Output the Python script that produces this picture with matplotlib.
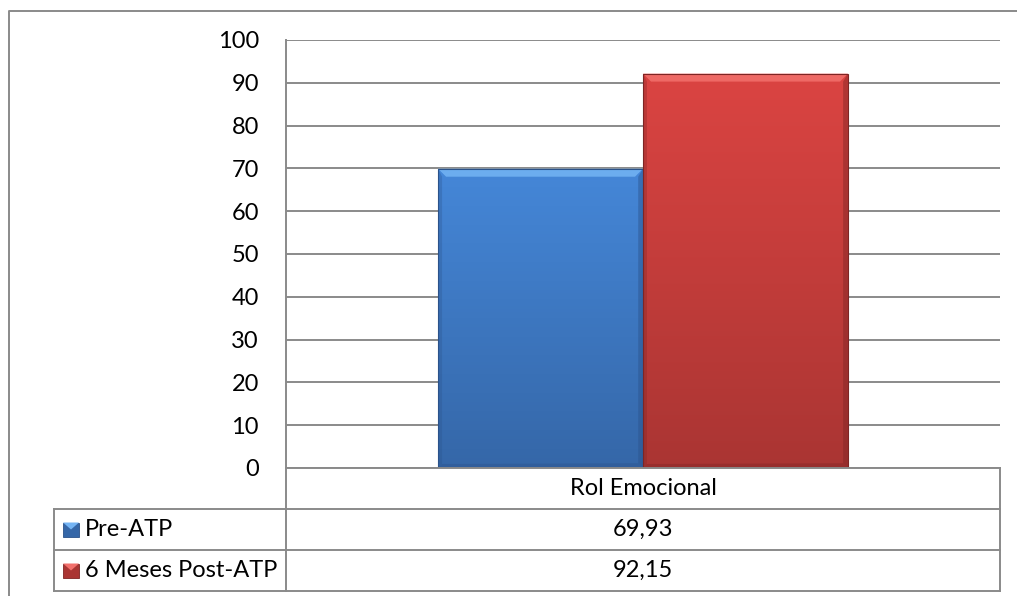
import numpy as np
import matplotlib
matplotlib.use("Agg")
import matplotlib.pyplot as plt
from matplotlib.patches import Rectangle, Polygon
from matplotlib.lines import Line2D
from matplotlib.colors import LinearSegmentedColormap

plt.rcParams['font.family'] = ['Lato', 'DejaVu Sans']

# ---- data ----
categories = ["Rol Emocional"]
series_names = ["Pre-ATP", "6 Meses Post-ATP"]
values = [69.93, 92.15]
value_labels = ["69,93", "92,15"]
y_ticks = [0, 10, 20, 30, 40, 50, 60, 70, 80, 90, 100]

# series colours: (top, bottom, bevel highlight, edge shadow)
palettes = [
    ("#4587d8", "#3567a8", "#74b4f4", "#2b528a"),
    ("#db4442", "#aa3533", "#f2706c", "#7e2524"),
]

FS = 17
W, H = 1017, 596
fig = plt.figure(figsize=(W / 100, H / 100), dpi=100)


def fx(px):
    return px / W


def fy(py):
    return 1 - py / H


x_left, x_right = 286, 1000
y_top, y_bottom = 40, 468
ax = fig.add_axes([fx(x_left), fy(y_bottom), fx(x_right) - fx(x_left), fy(y_top) - fy(y_bottom)])
ax.set_xlim(-0.5, 0.5)
ax.set_ylim(0, 100)
for s in ax.spines.values():
    s.set_visible(False)
ax.set_xticks([])
ax.set_yticks(y_ticks)
ax.set_yticklabels([str(t) for t in y_ticks], fontsize=FS)
ax.tick_params(axis='y', length=0, pad=19.5)
grid_color = "#8a8a8a"
for t in y_ticks:
    ax.axhline(t, color=grid_color, lw=1.4, zorder=0)

bar_w = 0.287
positions = [-bar_w / 2, bar_w / 2]

inv = ax.transData.inverted()
p0 = inv.transform((0, 0))
p1 = inv.transform((8, 8))
bx, by = p1[0] - p0[0], p1[1] - p0[1]


def draw_bar(xc, val, pal):
    top_c, bot_c, hi_c, sh_c = pal
    x0, x1 = xc - bar_w / 2, xc + bar_w / 2
    rect = Rectangle((x0, 0), bar_w, val, facecolor="none", edgecolor="none", zorder=2)
    ax.add_patch(rect)
    cmap = LinearSegmentedColormap.from_list("g", [bot_c, top_c])
    grad = np.linspace(0, 1, 256).reshape(-1, 1)
    im = ax.imshow(grad, extent=(x0, x1, 0, val), origin="lower", cmap=cmap,
                   aspect="auto", zorder=2, interpolation="bicubic")
    im.set_clip_path(rect)
    # bevel: lighter top, darker sides and base
    ax.add_patch(Polygon([(x0, val), (x1, val), (x1 - bx, val - by), (x0 + bx, val - by)],
                         closed=True, facecolor=hi_c, edgecolor="none", alpha=0.85, zorder=3))
    ax.add_patch(Polygon([(x1, val), (x1, 0), (x1 - bx * 0.6, by * 0.6), (x1 - bx * 0.6, val - by)],
                         closed=True, facecolor=sh_c, edgecolor="none", alpha=0.45, zorder=3))
    ax.add_patch(Polygon([(x0, val), (x0, 0), (x0 + bx * 0.5, by * 0.5), (x0 + bx * 0.5, val - by)],
                         closed=True, facecolor=sh_c, edgecolor="none", alpha=0.3, zorder=3))
    ax.add_patch(Polygon([(x0, 0), (x1, 0), (x1 - bx * 0.6, by * 0.6), (x0 + bx * 0.5, by * 0.5)],
                         closed=True, facecolor=sh_c, edgecolor="none", alpha=0.4, zorder=3))
    ax.add_patch(Rectangle((x0, 0), bar_w, val, facecolor="none", edgecolor=sh_c,
                           lw=0.8, zorder=4))


for xc, val, pal in zip(positions, values, palettes):
    draw_bar(xc, val, pal)

# ---- data table below the plot ----
line_kw = dict(color=grid_color, lw=1.4, transform=fig.transFigure)
row_y = [468, 509, 550, 591]
tab_left = 54


def hline(x0, x1, y):
    fig.add_artist(Line2D([fx(x0), fx(x1)], [fy(y), fy(y)], **line_kw))


def vline(x, y0, y1):
    fig.add_artist(Line2D([fx(x), fx(x)], [fy(y0), fy(y1)], **line_kw))


hline(x_left, x_right, row_y[0])
for y in row_y[1:]:
    hline(tab_left, x_right, y)
vline(x_left, y_top, row_y[3])
vline(x_right, row_y[0], row_y[3])
vline(tab_left, row_y[1], row_y[3])

# outer chart border
fig.add_artist(Line2D([fx(9), fx(9), fx(1017)], [fy(596), fy(11), fy(11)], **line_kw))

xc_px = (x_left + x_right) / 2
fig.text(fx(xc_px), fy((row_y[0] + row_y[1]) / 2), categories[0],
         ha="center", va="center", fontsize=FS)
for i, (name, lab, pal) in enumerate(zip(series_names, value_labels, palettes)):
    yc = (row_y[i + 1] + row_y[i + 2]) / 2
    fig.text(fx(xc_px), fy(yc), lab, ha="center", va="center", fontsize=FS)
    # legend key
    kx0, kx1, ky0, ky1 = 63, 79, yc - 7, yc + 7
    fig.add_artist(Rectangle((fx(kx0), fy(ky1)), fx(kx1) - fx(kx0), fy(ky0) - fy(ky1),
                             transform=fig.transFigure, facecolor=pal[1], edgecolor=pal[3], lw=0.6))
    fig.add_artist(Polygon([(fx(kx0), fy(ky0)), (fx(kx1), fy(ky0)),
                            (fx((kx0 + kx1) / 2), fy(yc))],
                           closed=True, transform=fig.transFigure, facecolor=pal[2], edgecolor="none"))
    fig.text(fx(85), fy(yc), name, ha="left", va="center", fontsize=FS)

fig.savefig("out.png", dpi=100)
